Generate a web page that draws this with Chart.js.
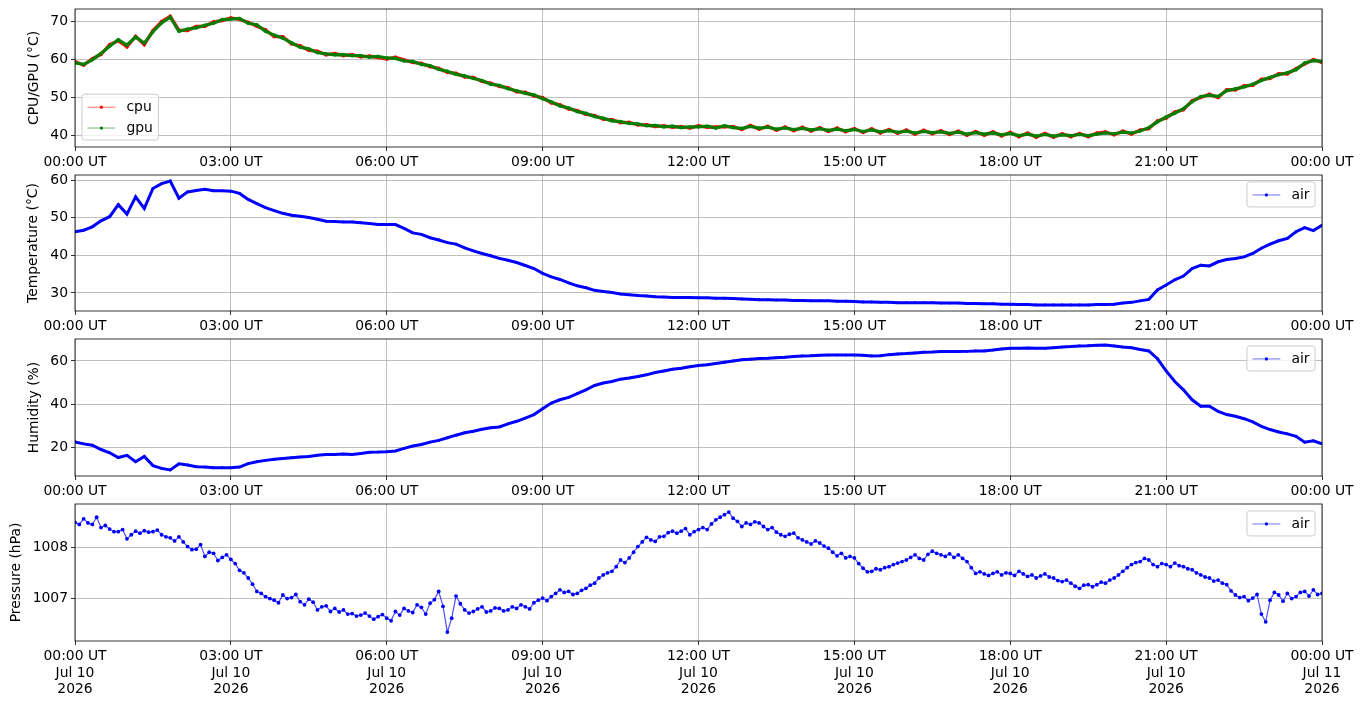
<!DOCTYPE html>
<html>
<head>
<meta charset="utf-8">
<script src="https://cdn.jsdelivr.net/npm/chart.js@4.4.1/dist/chart.umd.min.js"></script>
<style>
  html, body { margin: 0; padding: 0; background: #fff; }
  #fig { position: relative; width: 1363px; height: 707px; overflow: hidden; background: #fff; }
  #fig canvas { position: absolute; left: 0; }
</style>
</head>
<body>
<div id="fig">
  <canvas id="cpuChart" width="1363" height="165" style="top:4px"></canvas>
  <canvas id="tempChart" width="1363" height="163" style="top:170px"></canvas>
  <canvas id="humChart" width="1363" height="164" style="top:334px"></canvas>
  <canvas id="presChart" width="1363" height="208" style="top:499px"></canvas>
</div>
<script>
// readings every 10 minutes (pressure every 5), 00:00 UT Jul 10 -> 00:00 UT Jul 11
const minutes = Array.from({ length: 145 }, (_, i) => i * 10);
const pressureMinutes = Array.from({ length: 289 }, (_, i) => i * 5);

const xTickMinutes = [0, 180, 360, 540, 720, 900, 1080, 1260, 1440];
const xTickLabels = ["00:00 UT", "03:00 UT", "06:00 UT", "09:00 UT", "12:00 UT", "15:00 UT", "18:00 UT", "21:00 UT", "00:00 UT"];
const xTickDates = ["Jul 10", "Jul 10", "Jul 10", "Jul 10", "Jul 10", "Jul 10", "Jul 10", "Jul 10", "Jul 11"];
const xTickYears = ["2026", "2026", "2026", "2026", "2026", "2026", "2026", "2026", "2026"];

const cpuTicks = [40, 50, 60, 70];
const tempTicks = [30, 40, 50, 60];
const humTicks = [20, 40, 60];
const presTicks = [1007, 1008];

const cpu = [
  59.4, 58.4, 60.1, 61.2, 63.8, 64.8, 63.2, 66.0, 63.8, 67.5,
  69.9, 71.3, 67.6, 67.5, 68.6, 68.6, 69.8, 70.1, 70.8, 70.4,
  69.7, 68.6, 67.7, 65.9, 65.9, 64.0, 63.5, 62.3, 62.1, 61.1,
  61.5, 60.9, 61.2, 60.6, 60.8, 60.4, 60.0, 60.5, 59.8, 59.1,
  58.9, 58.0, 57.6, 56.5, 56.3, 55.3, 55.2, 54.1, 53.7, 52.8,
  52.5, 51.4, 51.3, 50.3, 49.9, 48.5, 48.0, 46.9, 46.5, 45.5,
  45.2, 44.2, 44.1, 43.3, 43.4, 42.7, 42.8, 42.3, 42.5, 42.1,
  42.3, 41.9, 42.5, 42.1, 42.2, 42.2, 42.3, 41.5, 42.6, 41.6,
  42.4, 41.3, 42.2, 41.2, 42.1, 41.1, 42.0, 41.0, 41.9, 40.9,
  41.8, 40.7, 41.7, 40.6, 41.5, 40.5, 41.4, 40.3, 41.3, 40.4,
  41.2, 40.2, 41.1, 40.0, 41.0, 40.0, 40.9, 39.8, 40.8, 39.6,
  40.6, 39.5, 40.5, 39.5, 40.4, 39.6, 40.5, 39.6, 40.6, 40.9,
  40.1, 41.1, 40.3, 41.4, 41.7, 43.8, 44.5, 46.1, 46.7, 49.1,
  49.9, 50.8, 49.9, 52.0, 51.9, 53.0, 53.1, 54.7, 54.9, 56.2,
  56.1, 57.5, 58.7, 59.9, 59.1
];

const gpu = [
  59.0, 58.6, 59.8, 61.5, 63.4, 65.1, 63.7, 65.8, 64.2, 67.2,
  69.5, 71.0, 67.3, 67.9, 68.2, 68.9, 69.4, 70.4, 70.5, 70.7,
  69.4, 69.0, 67.3, 66.3, 65.5, 64.3, 63.1, 62.7, 61.7, 61.4,
  61.1, 61.2, 60.9, 60.9, 60.5, 60.7, 60.3, 60.2, 59.5, 59.4,
  58.6, 58.3, 57.3, 56.8, 56.0, 55.6, 54.9, 54.4, 53.4, 53.1,
  52.2, 51.7, 51.0, 50.6, 49.6, 48.8, 47.7, 47.2, 46.2, 45.8,
  44.9, 44.5, 43.8, 43.6, 43.1, 43.0, 42.5, 42.6, 42.2, 42.4,
  42.0, 42.2, 42.2, 42.4, 41.9, 42.5, 42.0, 41.8, 42.3, 41.9,
  42.1, 41.6, 41.9, 41.5, 41.8, 41.4, 41.7, 41.3, 41.6, 41.2,
  41.5, 41.0, 41.4, 40.9, 41.2, 40.8, 41.1, 40.6, 41.0, 40.7,
  40.9, 40.5, 40.8, 40.3, 40.7, 40.3, 40.6, 40.1, 40.5, 39.9,
  40.3, 39.8, 40.2, 39.8, 40.1, 39.9, 40.2, 39.9, 40.3, 40.6,
  40.4, 40.8, 40.6, 41.1, 42.0, 43.5, 44.8, 45.8, 47.0, 48.8,
  50.2, 50.5, 50.2, 51.7, 52.2, 52.7, 53.4, 54.4, 55.2, 55.9,
  56.4, 57.2, 59.0, 59.6, 59.4
];

const airTemp = [
  46.3, 46.7, 47.6, 49.2, 50.3, 53.5, 51.0, 55.6, 52.5, 57.8,
  59.1, 59.8, 55.2, 56.9, 57.3, 57.6, 57.2, 57.2, 57.1, 56.5,
  54.9, 53.8, 52.7, 51.9, 51.2, 50.7, 50.4, 50.1, 49.6, 49.1,
  49.0, 48.9, 48.9, 48.7, 48.5, 48.2, 48.2, 48.2, 47.2, 46.0,
  45.6, 44.7, 44.1, 43.4, 43.0, 42.0, 41.2, 40.5, 39.9, 39.2,
  38.7, 38.1, 37.3, 36.5, 35.2, 34.3, 33.6, 32.7, 31.9, 31.4,
  30.7, 30.4, 30.1, 29.7, 29.5, 29.3, 29.2, 29.0, 28.9, 28.8,
  28.8, 28.8, 28.7, 28.7, 28.6, 28.6, 28.5, 28.4, 28.3, 28.2,
  28.2, 28.1, 28.1, 28.0, 28.0, 27.9, 27.9, 27.9, 27.8, 27.8,
  27.7, 27.6, 27.6, 27.5, 27.5, 27.4, 27.4, 27.4, 27.4, 27.4,
  27.3, 27.3, 27.3, 27.2, 27.2, 27.1, 27.1, 27.0, 27.0, 26.9,
  26.9, 26.8, 26.8, 26.8, 26.8, 26.8, 26.8, 26.8, 26.9, 26.9,
  27.0, 27.3, 27.5, 27.9, 28.3, 30.8, 32.1, 33.5, 34.5, 36.5,
  37.4, 37.2, 38.3, 38.9, 39.2, 39.6, 40.5, 41.9, 43.0, 43.9,
  44.5, 46.3, 47.4, 46.6, 48.0
];

const airHumidity = [
  22.7, 21.8, 21.2, 19.2, 17.7, 15.5, 16.5, 13.6, 16.0, 11.8,
  10.5, 9.8, 12.6, 12.1, 11.3, 11.1, 10.8, 10.8, 10.8, 11.1,
  12.7, 13.6, 14.2, 14.7, 15.1, 15.4, 15.7, 16.0, 16.6, 16.9,
  16.9, 17.1, 16.9, 17.4, 17.9, 18.0, 18.2, 18.5, 19.7, 20.8,
  21.5, 22.6, 23.4, 24.6, 25.8, 26.9, 27.6, 28.5, 29.2, 29.6,
  31.0, 32.2, 33.7, 35.3, 38.0, 40.6, 42.1, 43.2, 44.9, 46.7,
  48.7, 49.8, 50.5, 51.6, 52.1, 52.8, 53.6, 54.7, 55.4, 56.2,
  56.6, 57.3, 57.9, 58.2, 58.8, 59.4, 60.0, 60.5, 60.8, 61.1,
  61.2, 61.5, 61.7, 62.0, 62.3, 62.4, 62.6, 62.7, 62.7, 62.7,
  62.7, 62.6, 62.3, 62.4, 62.9, 63.2, 63.4, 63.7, 64.0, 64.1,
  64.3, 64.3, 64.3, 64.4, 64.6, 64.6, 65.0, 65.5, 65.8, 65.8,
  65.9, 65.8, 65.8, 66.1, 66.4, 66.6, 66.9, 67.0, 67.2, 67.3,
  66.9, 66.4, 66.1, 65.3, 64.6, 61.0, 55.4, 50.5, 46.7, 42.1,
  39.1, 39.1, 36.8, 35.3, 34.5, 33.4, 31.9, 29.9, 28.4, 27.3,
  26.4, 25.3, 22.6, 23.2, 21.8
];

const airPressure = [
  1008.48, 1008.44, 1008.55, 1008.47, 1008.44, 1008.58, 1008.38, 1008.42, 1008.35, 1008.30,
  1008.30, 1008.34, 1008.16, 1008.24, 1008.31, 1008.27, 1008.32, 1008.29, 1008.30, 1008.33,
  1008.24, 1008.20, 1008.18, 1008.12, 1008.20, 1008.10, 1008.01, 1007.95, 1007.96, 1008.05,
  1007.82, 1007.90, 1007.88, 1007.74, 1007.80, 1007.85, 1007.76, 1007.68, 1007.55, 1007.50,
  1007.40, 1007.28, 1007.14, 1007.10, 1007.04, 1007.00, 1006.97, 1006.92, 1007.07, 1007.00,
  1007.02, 1007.08, 1006.94, 1006.88, 1006.99, 1006.93, 1006.78, 1006.84, 1006.86, 1006.75,
  1006.81, 1006.74, 1006.78, 1006.70, 1006.71, 1006.66, 1006.68, 1006.72, 1006.66, 1006.60,
  1006.65, 1006.69, 1006.62, 1006.57, 1006.75, 1006.68, 1006.81, 1006.76, 1006.73, 1006.88,
  1006.83, 1006.70, 1006.91, 1006.98, 1007.14, 1006.85, 1006.35, 1006.62, 1007.05, 1006.90,
  1006.78, 1006.72, 1006.75, 1006.80, 1006.84, 1006.74, 1006.76, 1006.82, 1006.81, 1006.76,
  1006.78, 1006.84, 1006.81, 1006.88, 1006.84, 1006.80, 1006.92, 1006.97, 1007.01, 1006.96,
  1007.04, 1007.10, 1007.17, 1007.12, 1007.14, 1007.08, 1007.10, 1007.16, 1007.20, 1007.26,
  1007.30, 1007.40, 1007.46, 1007.50, 1007.53, 1007.62, 1007.75, 1007.70, 1007.79, 1007.90,
  1008.01, 1008.10, 1008.19, 1008.14, 1008.11, 1008.20, 1008.21, 1008.28, 1008.31, 1008.27,
  1008.31, 1008.36, 1008.24, 1008.30, 1008.34, 1008.38, 1008.34, 1008.45, 1008.53, 1008.58,
  1008.63, 1008.68, 1008.56, 1008.50, 1008.40, 1008.47, 1008.44, 1008.49, 1008.47, 1008.40,
  1008.34, 1008.38, 1008.29, 1008.24, 1008.21, 1008.25, 1008.27, 1008.18, 1008.14, 1008.10,
  1008.06, 1008.12, 1008.08, 1008.02, 1007.98, 1007.90, 1007.83, 1007.88, 1007.79, 1007.82,
  1007.79, 1007.68, 1007.59, 1007.52, 1007.53, 1007.58, 1007.56, 1007.60, 1007.62, 1007.66,
  1007.69, 1007.72, 1007.75, 1007.80, 1007.85, 1007.78, 1007.75, 1007.86, 1007.92, 1007.88,
  1007.85, 1007.82, 1007.87, 1007.80, 1007.85, 1007.78, 1007.72, 1007.60, 1007.49, 1007.52,
  1007.48, 1007.45, 1007.49, 1007.52, 1007.46, 1007.50, 1007.49, 1007.45, 1007.53, 1007.48,
  1007.43, 1007.46, 1007.40, 1007.44, 1007.48, 1007.42, 1007.40, 1007.35, 1007.33, 1007.36,
  1007.30, 1007.24, 1007.20, 1007.26, 1007.27, 1007.23, 1007.27, 1007.32, 1007.30, 1007.36,
  1007.40, 1007.46, 1007.53, 1007.60, 1007.66, 1007.70, 1007.72, 1007.78, 1007.75, 1007.66,
  1007.62, 1007.68, 1007.66, 1007.62, 1007.69, 1007.64, 1007.62, 1007.58, 1007.56, 1007.50,
  1007.46, 1007.42, 1007.40, 1007.34, 1007.36, 1007.30, 1007.27, 1007.15, 1007.07, 1007.02,
  1007.04, 1006.96, 1007.01, 1007.08, 1006.70, 1006.55, 1006.97, 1007.12, 1007.07, 1006.95,
  1007.10, 1007.00, 1007.04, 1007.12, 1007.14, 1007.05, 1007.17, 1007.08, 1007.10
];

const FONT = '"DejaVu Sans", "Liberation Sans", sans-serif';
const FS = 13.9;

function points(times, values) {
  return times.map((t, i) => ({ x: t, y: values[i] }));
}

// matplotlib style legend box
function drawLegend(chart, lg) {
  const a = chart.chartArea, ctx = chart.ctx;
  ctx.save();
  ctx.font = FS + "px " + FONT;
  const pad = 0.4 * FS, handle = 2 * FS, gap = 0.8 * FS, rowH = FS, spacing = 0.5 * FS;
  const tw = Math.max(...lg.items.map(it => ctx.measureText(it.label).width));
  const w = pad + handle + gap + tw + pad;
  const h = pad * 2 + lg.items.length * rowH + (lg.items.length - 1) * spacing;
  const inset = 0.5 * FS;
  const x = lg.loc === "upper right" ? a.right - inset - w : a.left + inset;
  const y = lg.loc === "upper right" ? a.top + inset : a.bottom - inset - h;
  ctx.beginPath();
  ctx.roundRect(x, y, w, h, 0.2 * FS);
  ctx.fillStyle = "rgba(255,255,255,0.8)";
  ctx.fill();
  ctx.strokeStyle = "#cccccc";
  ctx.lineWidth = 1;
  ctx.stroke();
  lg.items.forEach((it, i) => {
    const cy = y + pad + rowH / 2 + i * (rowH + spacing) + 0.5;
    ctx.globalAlpha = 0.7;
    ctx.strokeStyle = it.color;
    ctx.lineWidth = 0.8;
    ctx.beginPath();
    ctx.moveTo(x + pad, cy);
    ctx.lineTo(x + pad + handle, cy);
    ctx.stroke();
    ctx.globalAlpha = 1;
    ctx.fillStyle = it.color;
    ctx.beginPath();
    ctx.arc(x + pad + handle / 2, cy, 1.6, 0, Math.PI * 2);
    ctx.fill();
    ctx.fillStyle = "#000";
    ctx.textAlign = "left";
    ctx.textBaseline = "middle";
    ctx.fillText(it.label, x + pad + handle + gap, cy);
  });
  ctx.restore();
}

// frame, rotated y label and legend
const mplDecor = {
  id: "mplDecor",
  afterDraw(chart, args, opts) {
    const a = chart.chartArea, ctx = chart.ctx;
    ctx.save();
    ctx.strokeStyle = "#000";
    ctx.lineWidth = 0.8;
    ctx.strokeRect(a.left, a.top, a.right - a.left, a.bottom - a.top);
    ctx.translate(opts.titleX, (a.top + a.bottom) / 2);
    ctx.rotate(-Math.PI / 2);
    ctx.font = FS + "px " + FONT;
    ctx.fillStyle = "#000";
    ctx.textAlign = "center";
    ctx.textBaseline = "middle";
    ctx.fillText(opts.title, 0, 0);
    ctx.restore();
    drawLegend(chart, opts.legend);
  }
};

const gridStyle = { color: "#b0b0b0", lineWidth: 0.8, tickColor: "#000", tickLength: 4, tickWidth: 0.8 };

function makePanel(id, cfg) {
  const ctx = document.getElementById(id);
  if (!ctx) return;
  new Chart(ctx, {
    type: "line",
    data: { datasets: cfg.datasets },
    options: {
      responsive: false,
      animation: false,
      events: [],
      layout: { padding: { top: 5, right: 41, left: 0, bottom: 0 } },
      plugins: {
        legend: { display: false },
        tooltip: { enabled: false },
        mplDecor: { title: cfg.title, titleX: cfg.titleX, legend: cfg.legend }
      },
      scales: {
        x: {
          type: "linear", min: 0, max: 1440,
          afterBuildTicks: s => { s.ticks = xTickMinutes.map(v => ({ value: v })); },
          afterFit: s => { s.height = cfg.xHeight; s.paddingLeft = 0; s.paddingRight = 0; },
          grid: gridStyle,
          border: { display: false },
          ticks: {
            autoSkip: false, maxRotation: 0, padding: 3, color: "#000",
            font: { family: FONT, size: FS },
            callback: (v, i) => cfg.xLabel(i)
          }
        },
        y: {
          type: "linear", min: cfg.yMin, max: cfg.yMax,
          afterBuildTicks: s => { s.ticks = cfg.yTicks.map(v => ({ value: v })); },
          afterFit: s => { s.width = 75; s.paddingTop = 0; s.paddingBottom = 0; },
          grid: gridStyle,
          border: { display: false },
          ticks: {
            padding: 3, color: "#000",
            font: { family: FONT, size: FS },
            callback: v => String(v)
          }
        }
      }
    },
    plugins: [mplDecor]
  });
}

function series(label, times, values, color, lineColor, lineWidth, radius, order) {
  return {
    label: label,
    data: points(times, values),
    order: order,
    borderColor: lineColor,
    borderWidth: lineWidth,
    backgroundColor: color,
    pointBackgroundColor: color,
    pointBorderWidth: 0,
    pointRadius: radius,
    tension: 0,
    fill: false
  };
}

const timeOnly = i => xTickLabels[i];
const timeDate = i => [xTickLabels[i], xTickDates[i], xTickYears[i]];

// CPU / GPU (gpu drawn on top)
makePanel("cpuChart", {
  datasets: [
    series("cpu", minutes, cpu, "#ff0000", "rgba(255,0,0,0.9)", 3.2, 1.7, 1),
    series("gpu", minutes, gpu, "#008000", "rgba(0,128,0,0.95)", 3.2, 1.7, 0)
  ],
  yMin: 36.92, yMax: 73.16, yTicks: cpuTicks,
  title: "CPU/GPU (°C)", titleX: 34, xHeight: 22, xLabel: timeOnly,
  legend: { loc: "lower left", items: [{ label: "cpu", color: "#ff0000" }, { label: "gpu", color: "#008000" }] }
});

// air temperature
makePanel("tempChart", {
  datasets: [series("air", minutes, airTemp, "#0000ff", "#0000ff", 3, 1.4, 0)],
  yMin: 25.2, yMax: 61.4, yTicks: tempTicks,
  title: "Temperature (°C)", titleX: 33, xHeight: 22, xLabel: timeOnly,
  legend: { loc: "upper right", items: [{ label: "air", color: "#0000ff" }] }
});

// humidity
makePanel("humChart", {
  datasets: [series("air", minutes, airHumidity, "#0000ff", "#0000ff", 3, 1.4, 0)],
  yMin: 7.0, yMax: 70.1, yTicks: humTicks,
  title: "Humidity (%)", titleX: 34, xHeight: 22, xLabel: timeOnly,
  legend: { loc: "upper right", items: [{ label: "air", color: "#0000ff" }] }
});

// pressure
makePanel("presChart", {
  datasets: [series("air", pressureMinutes, airPressure, "#0000ff", "rgba(0,0,255,0.7)", 1.2, 1.9, 0)],
  yMin: 1006.177, yMax: 1008.837, yTicks: presTicks,
  title: "Pressure (hPa)", titleX: 16, xHeight: 66, xLabel: timeDate,
  legend: { loc: "upper right", items: [{ label: "air", color: "#0000ff" }] }
});
</script>
</body>
</html>
